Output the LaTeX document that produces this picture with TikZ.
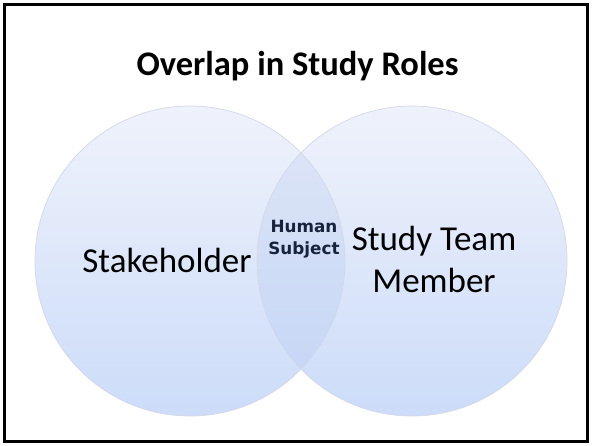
\documentclass[tikz,border=0pt]{standalone}
\usepackage{fontspec}
\setmainfont{Carlito}
\newfontfamily\smallbold{DejaVu Sans}
\begin{document}
\begin{tikzpicture}[x=1pt,y=-1pt,
  setcircle/.style={top color=circtop, bottom color=circbot, shading angle=0},
  ring/.style={draw=ringline, line width=0.7pt},
  bigtext/.style={font=\fontsize{35}{42}\selectfont, text=black, inner sep=0pt, anchor=base, align=center},
  midtext/.style={font=\smallbold\bfseries\fontsize{16.8}{22}\selectfont, text=navytext, inner sep=0pt, anchor=base, align=center}]
\definecolor{circtop}{HTML}{EFF2FB}
\definecolor{circbot}{HTML}{CCDCF9}
\definecolor{ringline}{HTML}{D2D8E8}
\definecolor{lensfill}{HTML}{7F9FE0}
\definecolor{navytext}{HTML}{17233D}
\useasboundingbox (0,0) rectangle (592,445);
\fill[white] (0,0) rectangle (592,445);

% the two sets
\path[setcircle] (190,261) circle[radius=155];
\path[setcircle] (412,261) circle[radius=155];
% shared region, slightly deeper tint
\begin{scope}
  \clip (190,261) circle[radius=155];
  \fill[lensfill, fill opacity=0.13] (412,261) circle[radius=155];
\end{scope}
\draw[ring] (190,261) circle[radius=155];
\draw[ring] (412,261) circle[radius=155];

% frame
\draw[black, line width=2.6pt] (4.3,4.3) rectangle (587.7,441.7);

% texts
\node[font=\bfseries\fontsize{34.5}{40}\selectfont, inner sep=0pt, anchor=base] (title) at (297.5,75) {Overlap in Study Roles};
\node[bigtext] (stake) at (167,272) {Stakeholder};
\node[bigtext] (team1) at (434,250) {Study Team};
\node[bigtext] (team2) at (434,292) {Member};
\node[midtext] (hs1) at (304,232) {Human};
\node[midtext] (hs2) at (304,254) {Subject};
\end{tikzpicture}
\end{document}
